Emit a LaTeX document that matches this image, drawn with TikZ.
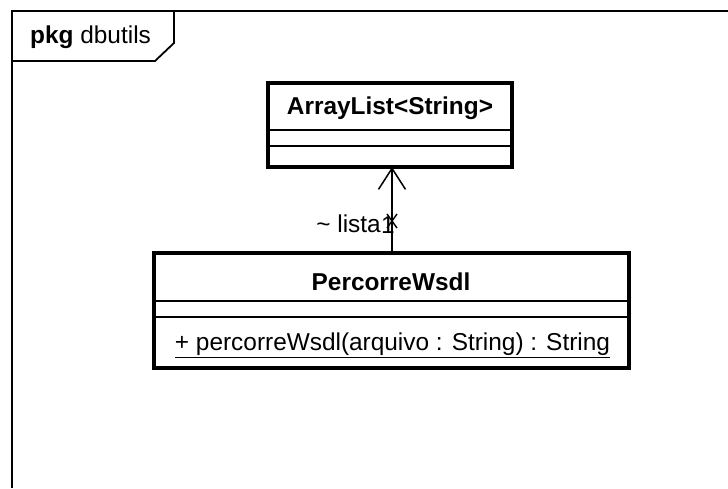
\documentclass[tikz,border=0pt]{standalone}
\usepackage{fontspec}
\setmainfont{Liberation Sans}
\usetikzlibrary{arrows.meta}
\begin{document}
\begin{tikzpicture}[x=1pt,y=-1pt,
  umlclass/.style={draw,line width=3.2pt,minimum width=#1,inner sep=0pt,fill=white},
  divider/.style={line width=1.6pt},
  frameline/.style={line width=1.8pt},
  txt/.style={inner sep=0pt,font=\fontsize{24.4}{28}\selectfont},
  assoc/.style={line width=1.5pt,-{Straight Barb[length=21pt,width=27pt,line width=1.5pt]}}]
\useasboundingbox[fill=white] (0,0) rectangle (728,488);
% package frame
\draw[frameline] (12,488) -- (12,11) -- (728,11);
\draw[frameline] (12,61) -- (155,61) -- (174,43) -- (174,11);
\node[txt,anchor=west] (pkg) at (30,37) {\textbf{pkg} dbutils};
% ArrayList class
\node[umlclass=244pt,minimum height=84pt] (al) at (390,125) {};
\node[txt] (altitle) at (390,108) {\textbf{ArrayList<String>}};
\draw[divider] (al.west |- 0,130) -- (al.east |- 0,130);
\draw[divider] (al.west |- 0,146) -- (al.east |- 0,146);
% PercorreWsdl class
\node[umlclass=475pt,minimum height=115pt] (pw) at (391.5,310.5) {};
\node[txt] (pwtitle) at (391,282) {\textbf{PercorreWsdl}};
\draw[divider] (pw.west |- 0,301) -- (pw.east |- 0,301);
\draw[divider] (pw.west |- 0,317) -- (pw.east |- 0,317);
\node[txt] (pwop) at (392.5,345) {\underline{+ percorreWsdl(arquivo : String) : String}};
% association
\coordinate (top) at (392,167);
\coordinate (bot) at (392,253);
\draw[assoc] (bot) -- (top);
\coordinate (xm) at (392,221);
\draw[line width=1.4pt] ([shift={(-5,-7)}]xm) -- ([shift={(5,7)}]xm);
\draw[line width=1.4pt] ([shift={(5,-7)}]xm) -- ([shift={(-5,7)}]xm);
\node[txt,anchor=east] (role) at (381,224) {\~{} lista};
\node[txt] (mult) at (388,225) {1};
\end{tikzpicture}
\end{document}
